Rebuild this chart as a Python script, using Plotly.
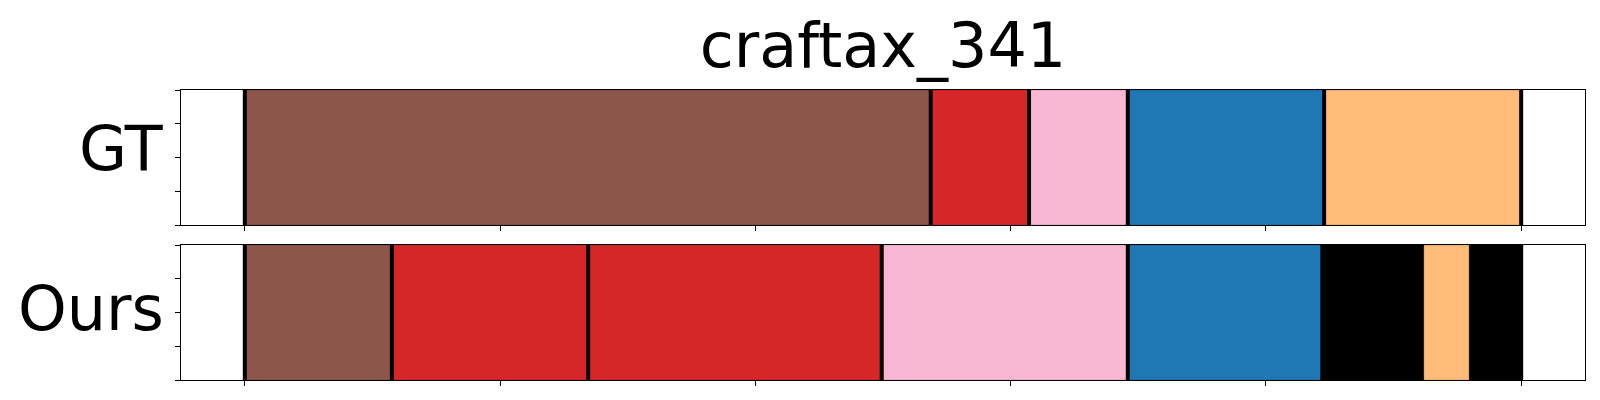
import plotly.graph_objects as go
from plotly.subplots import make_subplots

# ---- data ----
title_text = "craftax_341"
row_labels = ["GT", "Ours"]

gt_starts = [0, 268.7, 307.2, 345.9, 422.8]
gt_ends = [268.7, 307.2, 345.9, 422.8, 500]
gt_classes = ["brown", "red", "pink", "blue", "orange"]
gt_bounds = [0, 268.7, 307.2, 345.9, 422.8, 500]

ours_starts = [0, 57.6, 134.5, 249.5, 345.9, 422.1, 461.9, 479.6]
ours_ends = [57.6, 134.5, 249.5, 345.9, 422.1, 461.9, 479.6, 500]
ours_classes = ["brown", "red", "red", "pink", "blue", "black", "orange", "black"]
ours_bounds = [0, 57.6, 134.5, 249.5, 345.9, 422.1, 500]

x_ticks = [0, 100, 200, 300, 400, 500]
y_ticks = [0, 0.25, 0.5, 0.75, 1.0]

# ---- style ----
colors = {
    "brown": "#8c564b",
    "red": "#d62728",
    "pink": "#f7b6d2",
    "blue": "#1f77b4",
    "orange": "#ffbb78",
    "black": "#000000",
}

fig = make_subplots(rows=2, cols=1, vertical_spacing=20 / 290)
fig.update_layout(
    width=1600, height=400,
    margin=dict(l=173, r=23, t=82, b=28),
    plot_bgcolor="white", paper_bgcolor="white",
    showlegend=False, barmode="overlay",
    font=dict(family="DejaVu Sans", color="black"),
    title=dict(text=title_text, x=0.5, xref="paper", xanchor="center",
               y=0.908, yref="container", yanchor="middle",
               font=dict(size=62, color="black")),
)

rows = [
    (gt_starts, gt_ends, gt_classes, gt_bounds),
    (ours_starts, ours_ends, ours_classes, ours_bounds),
]
for r, (starts, ends, classes, bounds) in enumerate(rows, start=1):
    for s, e, c in zip(starts, ends, classes):
        fig.add_trace(go.Bar(
            x=[e - s], base=[s], y=[0.5], width=[1.0], orientation="h",
            marker=dict(color=colors[c], line=dict(color="rgba(0,0,0,0.15)", width=1)),
            hoverinfo="skip",
        ), row=r, col=1)
    bx, by = [], []
    for b in bounds:
        bx += [b, b, None]
        by += [0, 1, None]
    fig.add_trace(go.Scatter(
        x=bx, y=by, mode="lines", line=dict(color="black", width=4),
        hoverinfo="skip",
    ), row=r, col=1)

axis_common = dict(showline=True, linecolor="black", linewidth=1.3, mirror=True,
                   ticks="outside", ticklen=5, tickwidth=1, tickcolor="black",
                   showticklabels=False, showgrid=False, zeroline=False)
for r in (1, 2):
    fig.update_xaxes(range=[-25, 525], tickvals=x_ticks, row=r, col=1, **axis_common)
    fig.update_yaxes(range=[0, 1], tickvals=y_ticks, row=r, col=1, **axis_common)

# row labels
label_yshift = [9, 4]
for i, lab in enumerate(row_labels):
    yref = "y domain" if i == 0 else "y2 domain"
    fig.add_annotation(text=lab, xref="paper", yref=yref, x=0, y=0.5,
                       xanchor="right", yanchor="middle", xshift=-16, yshift=label_yshift[i],
                       showarrow=False, borderpad=0, font=dict(size=62, color="black"))

fig.write_html("out.html")
